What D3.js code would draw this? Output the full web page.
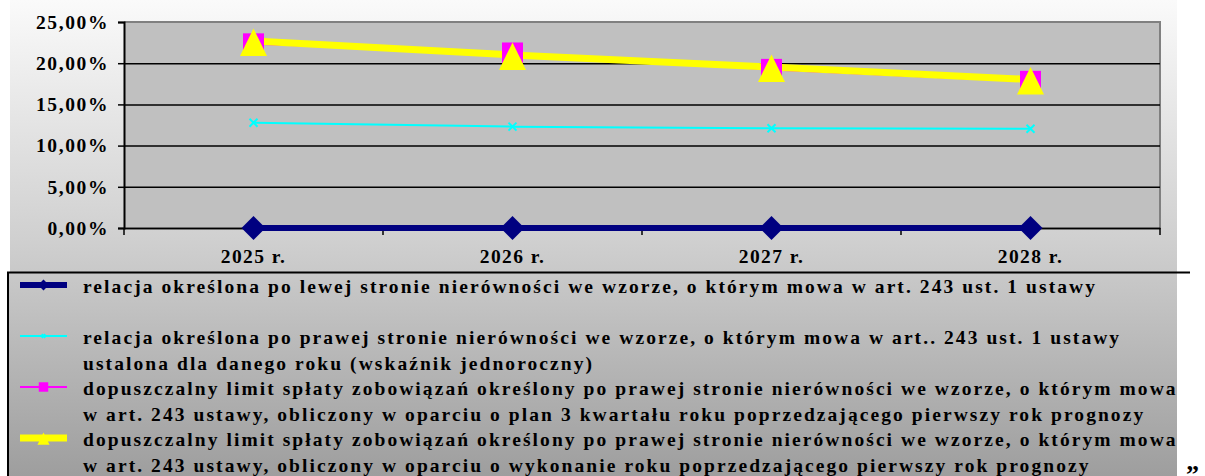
<!DOCTYPE html>
<html>
<head>
<meta charset="utf-8">
<script src="https://cdn.jsdelivr.net/npm/d3@7"></script>
<style>
  body { margin: 0; background: #fff; }
  svg { display: block; }
  text { font-family: "Liberation Serif", "Times New Roman", serif; font-weight: bold; fill: #000; }
</style>
</head>
<body>
<svg id="chart" width="1205" height="476"></svg>
<script>
// chart data (percent values)
const years = ['2025 r.', '2026 r.', '2027 r.', '2028 r.'];
const leftRelation = [0, 0, 0, 0];
const rightRelation = [12.78, 12.3, 12.1, 12.05];
const limitPlan = [22.35, 21.24, 19.25, 17.8];
const limitExec = [22.69, 21.0, 19.54, 18.02];
const yTicks = [0, 5, 10, 15, 20, 25];

const legendLines = [
    ['relacja określona po lewej stronie nierówności we wzorze, o którym mowa w art. 243 ust. 1 ustawy'],
    ['relacja określona po prawej stronie nierówności we wzorze, o którym mowa w art.. 243 ust. 1 ustawy',
     'ustalona dla danego roku (wskaźnik jednoroczny)'],
    ['dopuszczalny limit spłaty zobowiązań określony po prawej stronie nierówności we wzorze, o którym mowa',
     'w art. 243 ustawy, obliczony w oparciu o plan 3 kwartału roku poprzedzającego pierwszy rok prognozy'],
    ['dopuszczalny limit spłaty zobowiązań określony po prawej stronie nierówności we wzorze, o którym mowa',
     'w art. 243 ustawy, obliczony w oparciu o wykonanie roku poprzedzającego pierwszy rok prognozy']
];

const series = [
    {values: leftRelation, color: '#000080', width: 6, marker: 'diamond'},
    {values: rightRelation, color: '#00ffff', width: 2, marker: 'cross'},
    {values: limitPlan, color: '#ff00ff', width: 2, marker: 'square'},
    {values: limitExec, color: '#ffff00', width: 7, marker: 'triangle'}
];

const svg = d3.select('#chart');
const plot = {left: 124, right: 1160, top: 22, bottom: 228};

// background gradient
const defs = svg.append('defs');
const grad = defs.append('linearGradient')
    .attr('id', 'bg').attr('gradientUnits', 'userSpaceOnUse')
    .attr('x1', 0).attr('y1', 0).attr('x2', 0).attr('y2', 476);
grad.append('stop').attr('offset', 0).attr('stop-color', '#fafafa');
grad.append('stop').attr('offset', 0.5).attr('stop-color', '#d0d0d0');
grad.append('stop').attr('offset', 1).attr('stop-color', '#9e9e9e');

svg.append('rect').attr('x', 10).attr('y', 0).attr('width', 1167).attr('height', 476).attr('fill', 'url(#bg)');

// scales
const x = d3.scaleBand().domain(years).range([plot.left, plot.right]);
const y = d3.scaleLinear().domain([0, 25]).range([plot.bottom, plot.top]);
const cx = d => x(d) + x.bandwidth() / 2;

const locale = d3.formatLocale({decimal: ',', thousands: ' ', grouping: [3], currency: ['', ' zł']});
const pct = v => locale.format('.2f')(v) + '%';

// plot area
svg.append('rect')
    .attr('x', plot.left).attr('y', plot.top)
    .attr('width', plot.right - plot.left).attr('height', plot.bottom - plot.top)
    .attr('fill', '#c0c0c0');
svg.append('path')
    .attr('d', `M${plot.left},${plot.top}H${plot.right}V${plot.bottom}`)
    .attr('fill', 'none').attr('stroke', '#808080').attr('stroke-width', 2);

// gridlines
const grid = svg.append('g').attr('transform', `translate(${plot.left},0)`)
    .call(d3.axisLeft(y).tickValues(yTicks.filter(t => t < 25)).tickSize(-(plot.right - plot.left)).tickFormat(''));
grid.select('.domain').remove();
grid.selectAll('line').attr('stroke', '#000').attr('stroke-width', 1.5);

// y axis
const yAxis = svg.append('g').attr('transform', `translate(${plot.left},0)`)
    .call(d3.axisLeft(y).tickValues(yTicks).tickSize(6).tickPadding(9).tickFormat(pct));
yAxis.select('.domain').attr('stroke', '#000').attr('stroke-width', 2);
yAxis.selectAll('line').attr('stroke', '#000').attr('stroke-width', 1.5);
yAxis.selectAll('text')
    .style('font-family', '"Liberation Serif", serif').style('font-weight', 'bold')
    .style('font-size', '19.5px').style('letter-spacing', '1.6px').attr('fill', '#000');

// x axis
const xAxis = svg.append('g').attr('transform', `translate(0,${plot.bottom})`)
    .call(d3.axisBottom(x).tickSize(0).tickPadding(21));
xAxis.select('.domain').attr('stroke', '#000').attr('stroke-width', 1.5);
xAxis.selectAll('text')
    .style('font-family', '"Liberation Serif", serif').style('font-weight', 'bold')
    .style('font-size', '19.5px').style('letter-spacing', '1.4px').attr('fill', '#000');
svg.append('g').selectAll('line')
    .data(years.map(d => x(d)).concat([plot.right]))
    .enter().append('line')
    .attr('x1', d => d).attr('x2', d => d)
    .attr('y1', plot.bottom).attr('y2', plot.bottom + 7)
    .attr('stroke', '#000').attr('stroke-width', 1.5);

// markers
function drawMarker(g, type, color, px, py, scale) {
    const s = scale || 1;
    if (type === 'diamond') {
        const r = 12 * s;
        g.append('path').attr('d', `M${px},${py - r}L${px + r},${py}L${px},${py + r}L${px - r},${py}Z`).attr('fill', color);
    } else if (type === 'cross') {
        const r = 4 * s;
        g.append('path').attr('d', `M${px - r},${py - r}L${px + r},${py + r}M${px - r},${py + r}L${px + r},${py - r}`)
            .attr('stroke', color).attr('stroke-width', 2);
    } else if (type === 'square') {
        const r = 10.5 * s;
        g.append('rect').attr('x', px - r).attr('y', py - r).attr('width', 2 * r).attr('height', 2 * r).attr('fill', color);
    } else if (type === 'triangle') {
        g.append('path').attr('d', `M${px},${py - 12.5 * s}L${px + 13.5 * s},${py + 15 * s}L${px - 13.5 * s},${py + 15 * s}Z`).attr('fill', color);
    }
}

const lineGen = d3.line().x((d, i) => cx(years[i])).y(d => y(d));
const linesG = svg.append('g');
series.forEach(s => {
    linesG.append('path').datum(s.values).attr('d', lineGen)
        .attr('fill', 'none').attr('stroke', s.color).attr('stroke-width', s.width);
});
const markersG = svg.append('g');
series.forEach(s => {
    s.values.forEach((v, i) => drawMarker(markersG, s.marker, s.color, cx(years[i]), y(v)));
});

// legend
svg.append('rect').attr('x', 7).attr('y', 272).attr('width', 1162).attr('height', 210).attr('fill', 'url(#bg)');
svg.append('line').attr('x1', 7).attr('x2', 1190).attr('y1', 272.5).attr('y2', 272.5).attr('stroke', '#000').attr('stroke-width', 2);
svg.append('line').attr('x1', 8).attr('x2', 8).attr('y1', 272).attr('y2', 476).attr('stroke', '#000').attr('stroke-width', 2);

const legendRows = [0, 2, 4, 6];
const rowY = k => 293 + 25.5 * k;
const legendG = svg.append('g');
const legendTexts = [];
legendLines.forEach((lines, i) => {
    const s = series[i];
    const sy = rowY(legendRows[i]) - 8;
    legendG.append('line').attr('x1', 20).attr('x2', 67).attr('y1', sy).attr('y2', sy)
        .attr('stroke', s.color).attr('stroke-width', s.width);
    drawMarker(legendG, s.marker, s.color, 43.5, sy, 0.45);
    lines.forEach((t, j) => {
        const tx = legendG.append('text').attr('x', 83).attr('y', rowY(legendRows[i] + j))
            .style('font-size', '19.5px').text(t);
        legendTexts.push(tx);
    });
});
// spread letters so the first legend line reaches its width in the original
const natural = legendTexts[0].node().getComputedTextLength();
const ls = (1014 - natural) / legendLines[0][0].length;
legendTexts.forEach(t => t.style('letter-spacing', ls + 'px'));

svg.append('text').attr('x', 1186).attr('y', 483).style('font-size', '26px').text('”');
</script>
</body>
</html>
